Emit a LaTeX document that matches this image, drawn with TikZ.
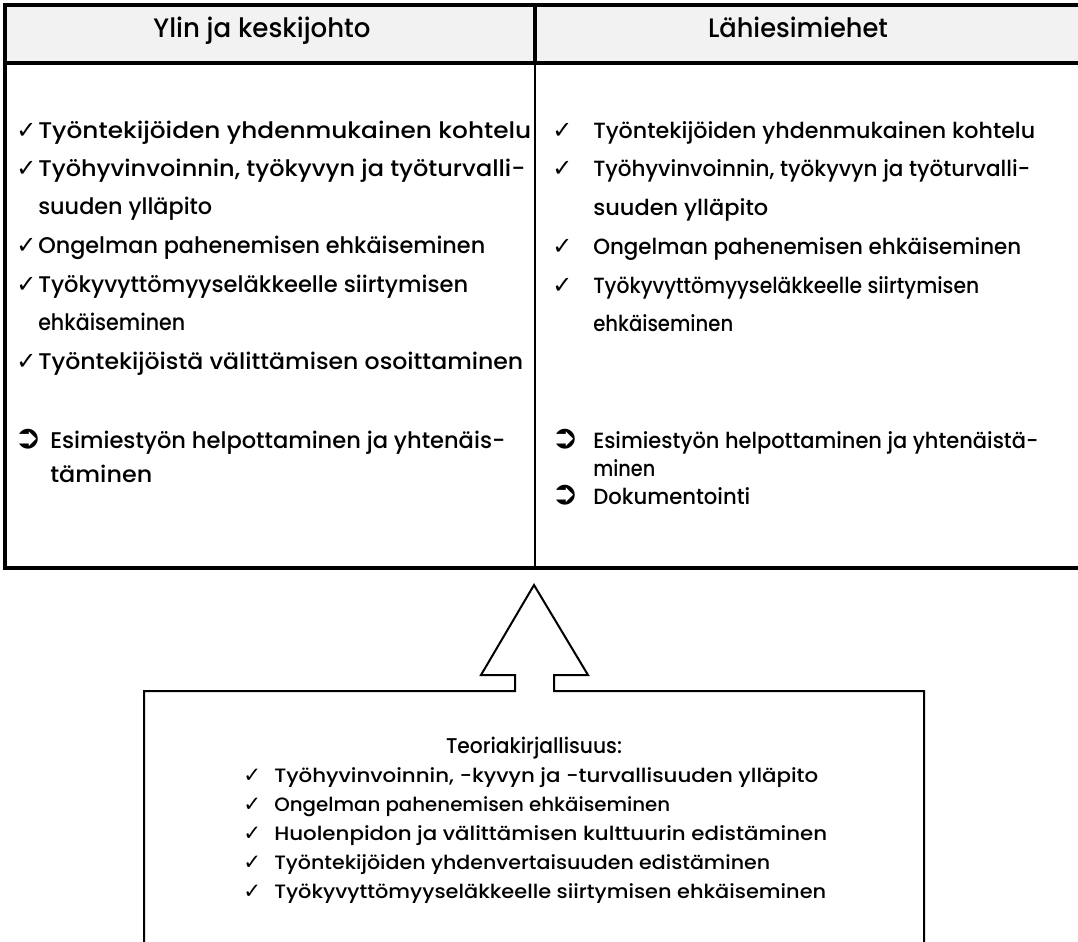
\documentclass[tikz,border=0pt]{standalone}
\usepackage{fontspec}
\usepackage{graphicx}
\setmainfont{Poppins}[UprightFont=* Medium]
\newfontfamily\symfont{DejaVu Sans}
\definecolor{hdrgray}{HTML}{F2F2F2}
\newlength\pxu
\setlength\pxu{0.75pt}
\newcommand\fitto[2]{\resizebox{#1\pxu}{\height}{#2}}
\tikzset{
  body/.style={anchor=base west, inner sep=0pt, font=\fontsize{17}{20}\selectfont},
  bodyr/.style={anchor=base west, inner sep=0pt, font=\fontsize{16.5}{20}\selectfont},
  small/.style={anchor=base west, inner sep=0pt, font=\fontsize{14.5}{17}\selectfont},
  chk/.style={anchor=base west, inner sep=0pt, font=\symfont\fontsize{18}{20}\selectfont},
  arr/.style={anchor=base west, inner sep=0pt, font=\symfont\bfseries\fontsize{19}{21}\selectfont},
  chks/.style={anchor=base west, inner sep=0pt, font=\symfont\fontsize{16}{18}\selectfont},
  hdrtext/.style={anchor=base, inner sep=0pt, font=\fontsize{20}{24}\selectfont},
  thick border/.style={line width=2.4pt},
  thin border/.style={line width=1.5pt}
}
\begin{document}
\begin{tikzpicture}[x=0.75pt,y=-0.75pt]
\useasboundingbox (0,0) rectangle (1078,942);
% table
\fill[hdrgray] (5,5) rectangle (1085,63);
\draw[thick border] (1085,5) -- (5,5) -- (5,568) -- (1085,568);
\draw[thick border] (5,63) -- (1085,63);
\draw[thick border] (535,5) -- (535,63);
\draw[thin border] (535,63) -- (535,568);
\node[hdrtext] (h1) at (262,38) {\fitto{217}{Ylin ja keskijohto}};
\node[hdrtext] (h2) at (798,38) {\fitto{180}{Lähiesimiehet}};
% left column
\node[chk] (lc1) at (16,138) {✓};
\node[body] (lt1) at (38,138) {\fitto{493}{Työntekijöiden yhdenmukainen kohtelu}};
\node[chk] (lc2) at (16,176) {✓};
\node[body] (lt2) at (38,176) {\fitto{487}{Työhyvinvoinnin, työkyvyn ja työturvalli-}};
\node[body] (lt2b) at (38,214) {\fitto{174}{suuden ylläpito}};
\node[chk] (lc3) at (16,253) {✓};
\node[body] (lt3) at (38,253) {\fitto{447}{Ongelman pahenemisen ehkäiseminen}};
\node[chk] (lc4) at (16,292) {✓};
\node[body] (lt4) at (38,292) {\fitto{430}{Työkyvyttömyyseläkkeelle siirtymisen}};
\node[body] (lt4b) at (38,330) {\fitto{147}{ehkäiseminen}};
\node[chk] (lc5) at (16,369) {✓};
\node[body] (lt5) at (38,369) {\fitto{485}{Työntekijöistä välittämisen osoittaminen}};
\node[arr] (la1) at (14,448) {\scalebox{1.3}{➲}};
\node[body] (lt6) at (50,448) {\fitto{455}{Esimiestyön helpottaminen ja yhtenäis-}};
\node[body] (lt6b) at (50,482) {\fitto{102}{täminen}};
% right column
\node[chk] (rc1) at (552,138) {✓};
\node[bodyr] (rt1) at (593,138) {\fitto{442}{Työntekijöiden yhdenmukainen kohtelu}};
\node[chk] (rc2) at (552,176) {✓};
\node[bodyr] (rt2) at (593,176) {\fitto{437}{Työhyvinvoinnin, työkyvyn ja työturvalli-}};
\node[bodyr] (rt2b) at (593,215) {\fitto{175}{suuden ylläpito}};
\node[chk] (rc3) at (552,254) {✓};
\node[bodyr] (rt3) at (593,254) {\fitto{428}{Ongelman pahenemisen ehkäiseminen}};
\node[chk] (rc4) at (552,293) {✓};
\node[bodyr] (rt4) at (593,293) {\fitto{386}{Työkyvyttömyyseläkkeelle siirtymisen}};
\node[bodyr] (rt4b) at (593,331) {\fitto{140}{ehkäiseminen}};
\node[arr] (ra1) at (551,448) {\scalebox{1.3}{➲}};
\node[bodyr] (rt5) at (593,448) {\fitto{445}{Esimiestyön helpottaminen ja yhtenäistä-}};
\node[bodyr] (rt5b) at (593,476) {\fitto{62}{minen}};
\node[arr] (ra2) at (551,504) {\scalebox{1.3}{➲}};
\node[bodyr] (rt6) at (593,504) {\fitto{157}{Dokumentointi}};
% arrow + bottom box outline
\draw[line width=1.5pt, line join=miter] (144,950) -- (144,691) -- (515,691) -- (515,675) -- (481,675) -- (534,585)
  -- (588,675) -- (554,675) -- (554,691) -- (924,691) -- (924,950);
% bottom box
\node[anchor=base, inner sep=0pt, font=\fontsize{16}{19}\selectfont] (bt) at (534,753) {\fitto{176}{Teoriakirjallisuus:}};
\node[chks] (bc1) at (243,782) {✓};
\node[small] (b1) at (274,782) {\fitto{544}{Työhyvinvoinnin, -kyvyn ja -turvallisuuden ylläpito}};
\node[chks] (bc2) at (243,811) {✓};
\node[small] (b2) at (274,811) {\fitto{396}{Ongelman pahenemisen ehkäiseminen}};
\node[chks] (bc3) at (243,840) {✓};
\node[small] (b3) at (274,840) {\fitto{553}{Huolenpidon ja välittämisen kulttuurin edistäminen}};
\node[chks] (bc4) at (243,869) {✓};
\node[small] (b4) at (274,869) {\fitto{496}{Työntekijöiden yhdenvertaisuuden edistäminen}};
\node[chks] (bc5) at (243,898) {✓};
\node[small] (b5) at (274,898) {\fitto{552}{Työkyvyttömyyseläkkeelle siirtymisen ehkäiseminen}};
\end{tikzpicture}
\end{document}
